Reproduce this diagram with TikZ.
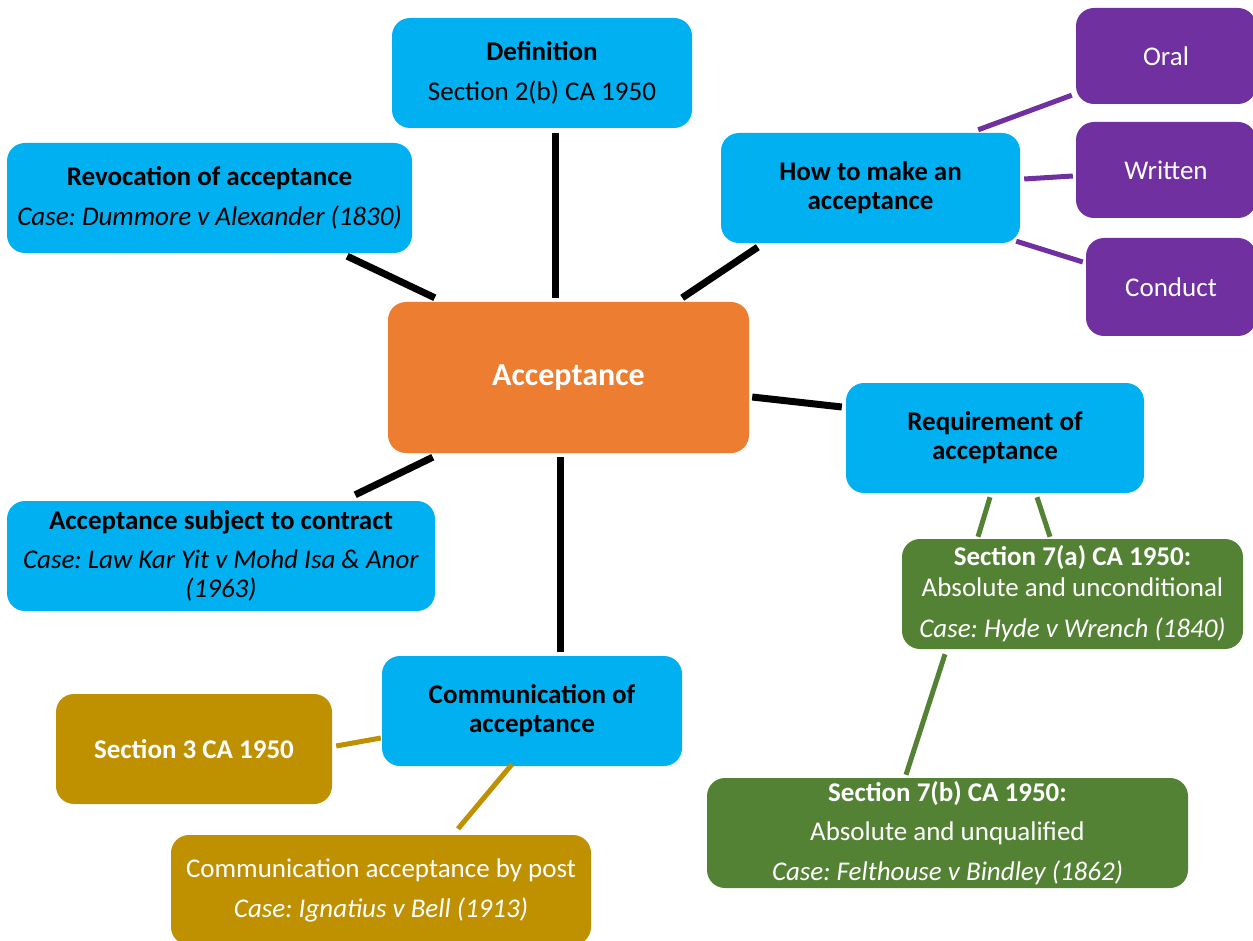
\documentclass[tikz,border=0pt]{standalone}
\usepackage{fontspec}
\setmainfont{Carlito}
\frenchspacing
\definecolor{topicblue}{HTML}{00B0F0}
\definecolor{coreorange}{HTML}{ED7D31}
\definecolor{waypurple}{HTML}{7030A0}
\definecolor{rulegreen}{HTML}{548235}
\definecolor{postgold}{HTML}{BF9000}
\begin{document}
\begin{tikzpicture}[x=1pt,y=-1pt,
  box/.style={rounded corners=18pt, inner sep=0pt, align=center,
    font=\fontsize{27}{29}\selectfont},
  topic/.style={box, fill=topicblue, text=black},
  core/.style={box, fill=coreorange, text=white, font=\fontsize{32}{36}\selectfont\bfseries},
  way/.style={box, fill=waypurple, text=white},
  rule/.style={box, fill=rulegreen, text=white},
  post/.style={box, fill=postgold, text=white},
  hub/.style={line width=7pt, black},
  twig/.style={line width=5pt}
]
\useasboundingbox (0,0) rectangle (1253,941);
\clip (0,0) rectangle (1253,941);

% central idea
\node[core, minimum width=361, minimum height=151] (acc) at (568.5,377.5) {Acceptance};

% first-level topics
\node[topic, minimum width=300, minimum height=110] (def) at (542,73)
  {\textbf{Definition}\\[11pt]Section 2(b) CA 1950};
\node[topic, minimum width=405, minimum height=110] (rev) at (209.5,198)
  {\textbf{Revocation of acceptance}\\[11pt]\textit{Case: Dummore v Alexander (1830)}};
\node[topic, minimum width=299, minimum height=110] (how) at (870.5,188)
  {\textbf{How to make an}\\\textbf{acceptance}};
\node[topic, minimum width=298, minimum height=110] (req) at (995,438)
  {\textbf{Requirement of}\\\textbf{acceptance}};
\node[topic, minimum width=428, minimum height=110] (sub) at (221,556)
  {\textbf{Acceptance subject to contract}\\[10pt]\textit{Case: Law Kar Yit v Mohd Isa \& Anor}\\\textit{(1963)}};
\node[topic, minimum width=300, minimum height=110] (com) at (532,711)
  {\textbf{Communication of}\\\textbf{acceptance}};

% ways of accepting
\node[way, minimum width=180, minimum height=96] (oral) at (1166,56) {Oral};
\node[way, minimum width=180, minimum height=96] (writ) at (1166,170) {Written};
\node[way, minimum width=170, minimum height=98] (cond) at (1171,287) {Conduct};

% requirements
\node[rule, minimum width=341, minimum height=110] (s7a) at (1072.5,594)
  {\textbf{Section 7(a) CA 1950:}\\[2pt]Absolute and unconditional\\[12pt]\textit{Case: Hyde v Wrench (1840)}};
\node[rule, minimum width=481, minimum height=110] (s7b) at (947.5,833)
  {\textbf{Section 7(b) CA 1950:}\\[10pt]Absolute and unqualified\\[11pt]\textit{Case: Felthouse v Bindley (1862)}};

% communication rules
\node[post, minimum width=276, minimum height=110] (s3) at (194,749) {\textbf{Section 3 CA 1950}};
\node[post, minimum width=420, minimum height=110] (bypost) at (381,890)
  {Communication acceptance by post\\[11pt]\textit{Case: Ignatius v Bell (1913)}};

% spokes from the central idea
\draw[hub] ([shift={(13,5)}]def.south) -- ([shift={(-13.5,-4)}]acc.north);
\draw[hub] ([shift={(-65,3)}]rev.south east) -- ([shift={(47,-4)}]acc.north west);
\draw[hub] ([shift={(37,4)}]how.south west) -- ([shift={(-67,-4)}]acc.north east);
\draw[hub] ([shift={(3,19.5)}]acc.east) -- ([shift={(-4,-31)}]req.west);
\draw[hub] ([shift={(45,4)}]acc.south west) -- ([shift={(-80,-6)}]sub.north east);
\draw[hub] ([shift={(-8.5,4)}]acc.south) -- ([shift={(28,-4)}]com.north);

% ways of making an acceptance
\draw[twig, waypurple] ([shift={(-42,-3)}]how.north east) -- ([shift={(-4,-9)}]oral.south west);
\draw[twig, waypurple] ([shift={(4,-9)}]how.east) -- ([shift={(-3,6)}]writ.west);
\draw[twig, waypurple] ([shift={(-4,-2)}]how.south east) -- ([shift={(-3,-25)}]cond.west);

% requirements of acceptance
\draw[twig, rulegreen] ([shift={(-5,4)}]req.south) -- ([shift={(-94.5,-2)}]s7a.north);
\draw[twig, rulegreen] ([shift={(42,4)}]req.south) -- ([shift={(-22.5,-2)}]s7a.north);
\draw[twig, rulegreen] ([shift={(-127.5,5)}]s7a.south) -- ([shift={(-41.5,-3)}]s7b.north);

% communication of acceptance
\draw[twig, postgold] ([shift={(-1,27)}]com.west) -- ([shift={(4,-3)}]s3.east);
\draw[twig, postgold] ([shift={(-20,-2)}]com.south) -- ([shift={(77,-6)}]bypost.north);
\end{tikzpicture}
\end{document}
